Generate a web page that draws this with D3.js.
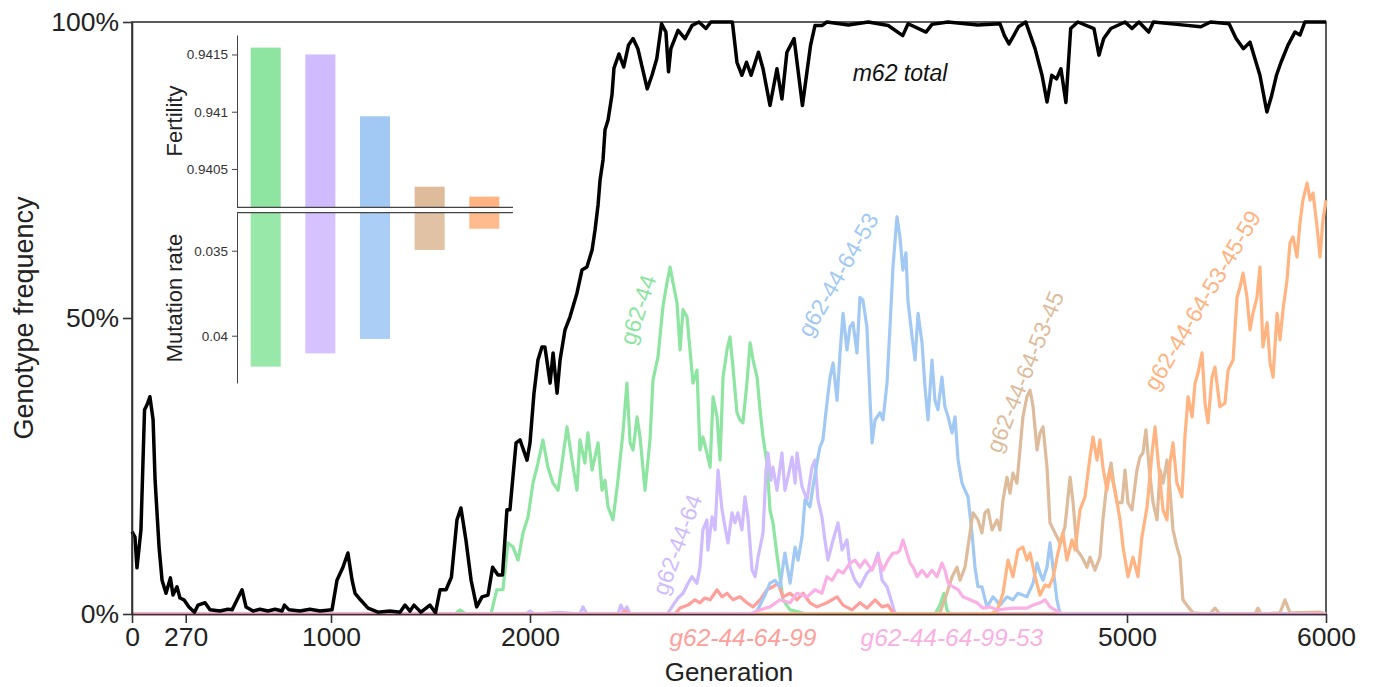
<!DOCTYPE html>
<html>
<head>
<meta charset="utf-8">
<script src="https://cdn.jsdelivr.net/npm/d3@7"></script>
<style>
  body { margin: 0; background: #fff; }
  svg { display: block; font-family: "Liberation Sans", Arial, Helvetica, sans-serif; }
</style>
</head>
<body>
<div id="chart"></div>
<script>
// [generation, % of population]
const m62Total = [[0,13.9],[15,13.0],[25,7.8],[45,14.2],[63,34.5],[75,35.3],[90,36.7],[106,32.8],[116,22.6],[136,11.3],[151,5.7],[171,3.5],[193,6.1],[206,3.2],[226,4.6],[241,2.7],[261,2.4],[286,1.2],[314,0.3],[332,1.5],[367,1.9],[392,0.7],[442,0.5],[482,0.8],[503,0.7],[528,2.4],[553,4.1],[573,1.2],[608,0.5],[643,0.8],[683,0.5],[719,0.8],[754,0.5],[766,1.5],[789,0.7],[844,0.5],[894,0.8],[945,0.5],[1005,0.7],[1030,5.7],[1060,7.9],[1085,10.3],[1106,5.7],[1121,3.5],[1148,2.4],[1186,1.0],[1236,0.3],[1296,0.5],[1347,0.3],[1372,1.5],[1397,0.5],[1417,1.5],[1452,0.3],[1497,1.5],[1525,0.2],[1548,4.1],[1578,4.1],[1605,6.2],[1633,15.9],[1653,17.9],[1678,12.5],[1704,5.7],[1732,1.2],[1759,2.9],[1789,3.2],[1812,7.9],[1839,6.6],[1862,6.6],[1884,17.6],[1899,17.6],[1930,28.9],[1950,29.4],[1985,26.0],[2000,28.9],[2020,37.3],[2040,42.9],[2060,45.1],[2075,45.1],[2101,39.0],[2116,44.1],[2136,37.3],[2151,42.9],[2176,48.0],[2201,50.2],[2236,54.2],[2261,58.1],[2286,58.6],[2312,61.5],[2327,64.9],[2342,69.1],[2352,73.3],[2367,76.7],[2377,81.8],[2392,83.4],[2412,87.7],[2422,92.2],[2447,94.6],[2471,92.4],[2495,96.1],[2518,97.2],[2542,95.5],[2589,88.7],[2613,91.0],[2637,93.8],[2661,99.7],[2683,98.3],[2696,91.6],[2708,95.5],[2744,98.6],[2779,97.2],[2814,99.4],[2849,100],[2884,98.9],[2909,100],[3017,100],[3040,93.2],[3065,91.0],[3088,93.2],[3111,91.0],[3148,94.9],[3171,92.1],[3206,85.9],[3241,92.1],[3266,87.0],[3291,94.9],[3327,97.2],[3369,85.9],[3410,96.1],[3432,99.4],[3467,99.4],[3492,100],[3600,99.5],[3700,100],[3800,99.4],[3873,97.7],[3900,99.7],[3990,98.3],[4020,99.6],[4100,100],[4250,99.5],[4362,99.7],[4384,97.7],[4407,96.3],[4432,97.8],[4455,99.2],[4491,100],[4515,97.7],[4538,95.5],[4573,91.0],[4598,86.5],[4622,91.0],[4646,90.4],[4668,92.1],[4693,86.4],[4717,98.9],[4753,100],[4834,98.9],[4859,94.4],[4883,97.2],[4919,98.9],[4990,100],[5025,98.9],[5060,100],[5109,98.3],[5133,100],[5250,99.6],[5371,99.2],[5420,100],[5513,99.7],[5548,97.2],[5585,95.5],[5618,96.6],[5643,93.8],[5668,91.0],[5703,84.8],[5727,87.6],[5751,91.0],[5774,93.2],[5809,96.1],[5844,98.3],[5869,97.8],[5894,100],[6000,100]]

const g62_44 = [[0,0],[1623,0],[1648,0.7],[1678,0],[1804,0],[1833,4.1],[1864,4.1],[1889,12.0],[1915,11.3],[1940,9.1],[1965,13.7],[1990,16.4],[2015,22.1],[2040,25.5],[2065,29.4],[2090,24.8],[2116,22.1],[2141,20.9],[2161,25.5],[2186,31.6],[2211,26.0],[2236,20.9],[2251,29.4],[2276,25.5],[2291,30.6],[2312,24.3],[2342,28.9],[2362,20.9],[2377,22.6],[2392,18.1],[2417,15.9],[2442,22.6],[2467,30.6],[2487,39.0],[2503,28.9],[2518,27.7],[2538,33.3],[2553,29.9],[2578,20.9],[2603,29.4],[2618,39.5],[2643,43.4],[2668,51.9],[2688,55.9],[2704,58.6],[2719,55.9],[2739,52.5],[2754,44.6],[2769,51.4],[2789,50.2],[2804,44.6],[2819,39.0],[2839,41.2],[2854,27.7],[2869,29.9],[2889,27.2],[2905,24.8],[2920,36.7],[2940,33.3],[2955,26.0],[2970,40.0],[2990,44.6],[3005,46.8],[3020,41.7],[3040,34.0],[3055,32.8],[3070,32.3],[3090,39.0],[3106,45.8],[3121,42.9],[3141,40.0],[3156,34.5],[3171,29.9],[3191,25.5],[3206,17.6],[3221,15.4],[3241,10.0],[3256,6.3],[3271,2.4],[3307,0.7],[3357,0.3],[3382,0],[4035,0],[4060,1.5],[4080,3.5],[4095,0.7],[4111,0],[6000,0]]

const g62_44_64 = [[0,0],[1975,0],[2000,0.5],[2025,0],[2151,0.3],[2251,0],[2266,1.2],[2286,0],[2442,0],[2457,1.5],[2472,0.3],[2487,1.2],[2503,0],[2688,0],[2704,0.7],[2719,1.5],[2744,2.7],[2769,3.5],[2794,5.2],[2814,6.3],[2839,5.2],[2854,7.9],[2869,14.2],[2889,15.9],[2894,10.8],[2915,16.4],[2930,14.2],[2945,24.3],[2965,17.6],[2980,14.7],[2995,12.0],[3015,17.1],[3030,15.4],[3045,17.1],[3065,14.2],[3080,19.8],[3095,16.4],[3116,7.4],[3131,6.3],[3146,9.6],[3171,13.7],[3186,24.3],[3196,27.2],[3211,22.6],[3221,24.8],[3241,20.9],[3266,27.2],[3281,20.9],[3296,23.1],[3317,26.5],[3332,22.1],[3342,27.2],[3367,21.5],[3392,19.3],[3417,24.8],[3432,26.0],[3447,19.3],[3467,16.4],[3482,12.5],[3497,9.1],[3523,12.5],[3548,15.4],[3568,10.8],[3593,12.5],[3608,7.9],[3633,5.7],[3658,4.6],[3693,6.9],[3724,7.9],[3749,10.3],[3769,5.7],[3794,4.6],[3819,1.9],[3834,0],[6000,0]]

const g62_44_64_99 = [[0,0],[2452,0],[2477,0.5],[2503,0],[2729,0],[2754,1.0],[2794,1.5],[2829,2.4],[2854,1.9],[2879,2.7],[2905,2.4],[2940,4.1],[2965,2.9],[2990,3.5],[3020,2.4],[3055,2.9],[3090,1.9],[3121,1.2],[3156,2.4],[3191,4.1],[3221,4.6],[3246,5.2],[3271,2.9],[3307,3.5],[3342,2.4],[3372,3.5],[3407,1.9],[3442,1.2],[3492,1.9],[3543,2.9],[3573,1.5],[3618,0.7],[3658,1.9],[3693,1.0],[3734,2.4],[3769,1.2],[3799,1.5],[3824,0.2],[3859,0],[6000,0]]

const g62_44_64_53 = [[0,0],[3131,0],[3156,1.5],[3181,3.2],[3206,5.2],[3231,5.7],[3256,4.6],[3281,10.3],[3307,5.2],[3332,11.3],[3347,9.1],[3367,13.0],[3382,19.3],[3407,18.1],[3422,21.5],[3442,25.5],[3457,28.2],[3472,29.4],[3492,35.6],[3508,40.0],[3523,42.4],[3543,36.1],[3558,44.1],[3573,50.8],[3593,44.6],[3608,48.5],[3623,49.2],[3643,44.1],[3658,53.5],[3673,53.0],[3693,48.5],[3709,36.1],[3719,28.9],[3734,32.8],[3759,34.0],[3774,32.8],[3794,39.0],[3809,48.5],[3824,58.6],[3844,67.1],[3859,63.7],[3874,58.1],[3889,61.0],[3899,53.0],[3920,46.8],[3935,42.9],[3950,50.8],[3970,45.8],[3985,38.3],[4000,32.8],[4020,42.9],[4035,36.1],[4050,34.5],[4070,40.0],[4085,35.0],[4101,33.3],[4121,30.6],[4136,33.3],[4151,26.0],[4171,22.1],[4186,20.9],[4201,19.8],[4221,13.7],[4236,7.9],[4251,4.6],[4271,4.6],[4296,1.2],[4327,2.9],[4362,1.5],[4397,2.9],[4427,2.4],[4452,3.5],[4497,2.9],[4528,5.2],[4548,8.6],[4563,6.9],[4578,5.7],[4598,7.9],[4613,12.0],[4628,7.9],[4648,2.4],[4663,0],[6000,0]]

const g62_44_64_99_53 = [[0,0],[3106,0],[3156,0.7],[3206,1.2],[3256,2.4],[3307,1.9],[3342,3.5],[3392,2.9],[3432,4.1],[3467,3.5],[3492,6.3],[3518,5.7],[3548,7.4],[3573,6.9],[3608,8.6],[3633,9.1],[3658,7.9],[3683,9.1],[3719,7.4],[3749,9.6],[3774,7.4],[3799,9.1],[3824,10.3],[3844,10.3],[3859,10.8],[3874,12.5],[3894,10.3],[3910,8.6],[3925,7.9],[3945,6.3],[3970,7.4],[3995,6.3],[4020,7.4],[4045,6.3],[4070,8.6],[4085,7.4],[4101,5.2],[4126,4.6],[4151,4.1],[4176,2.9],[4211,2.4],[4246,1.9],[4276,1.0],[4312,1.2],[4347,0.7],[4427,1.0],[4497,1.0],[4528,1.5],[4563,1.9],[4588,2.4],[4613,1.2],[4638,0.7],[4663,0.2],[4688,0],[6000,0]]

const g62_44_64_53_45 = [[0,0],[4035,0],[4060,0.2],[4095,3.5],[4121,6.3],[4146,7.9],[4161,5.7],[4186,7.9],[4211,13.7],[4226,17.1],[4251,15.9],[4271,13.7],[4286,17.1],[4302,17.6],[4322,14.2],[4347,15.9],[4362,14.2],[4377,19.3],[4397,23.1],[4412,20.4],[4427,23.8],[4447,22.1],[4462,27.7],[4477,33.3],[4497,36.7],[4513,37.8],[4528,35.0],[4548,27.7],[4563,30.6],[4578,31.6],[4598,24.8],[4613,15.4],[4638,13.7],[4663,12.0],[4688,14.7],[4714,23.1],[4729,18.8],[4749,10.8],[4774,9.6],[4799,7.9],[4814,9.6],[4839,7.4],[4864,9.6],[4879,15.9],[4899,22.1],[4920,25.5],[4935,21.5],[4950,18.8],[4975,18.8],[4990,24.3],[5005,18.8],[5025,17.6],[5050,24.3],[5065,26.5],[5080,27.2],[5095,31.1],[5111,24.8],[5131,18.8],[5151,15.9],[5166,24.3],[5181,22.1],[5201,26.0],[5216,20.9],[5231,14.2],[5251,11.3],[5266,9.6],[5281,2.4],[5307,1.2],[5332,0.2],[5417,0],[5442,1.0],[5467,0],[5643,0],[5658,1.0],[5673,0],[5769,0.2],[5794,2.4],[5819,0.2],[5970,0.3],[6000,0]]

const g62_44_64_53_45_59 = [[0,0],[4312,0],[4347,0.5],[4377,3.5],[4402,9.1],[4427,6.3],[4452,10.8],[4477,11.3],[4497,9.1],[4513,10.3],[4538,6.3],[4563,3.2],[4588,4.9],[4608,4.6],[4628,6.1],[4653,10.3],[4678,13.7],[4698,9.1],[4724,12.5],[4739,10.8],[4764,17.6],[4789,19.8],[4814,26.5],[4829,29.9],[4849,26.0],[4864,29.4],[4879,24.8],[4899,20.9],[4915,24.3],[4940,20.9],[4965,15.9],[4980,11.3],[5005,6.3],[5030,9.6],[5055,6.3],[5075,13.0],[5101,18.1],[5126,27.2],[5141,31.6],[5156,26.0],[5181,17.6],[5201,15.9],[5216,25.5],[5231,28.9],[5251,22.1],[5276,19.8],[5291,29.9],[5307,36.7],[5327,33.3],[5342,39.0],[5357,40.7],[5377,44.1],[5392,35.6],[5407,32.3],[5427,40.0],[5442,41.7],[5467,35.0],[5492,35.6],[5508,41.2],[5533,42.9],[5553,53.5],[5568,55.2],[5583,57.6],[5603,53.5],[5618,48.0],[5633,50.8],[5653,53.5],[5668,58.6],[5683,45.1],[5704,49.2],[5719,42.4],[5734,40.0],[5754,50.8],[5769,46.3],[5784,51.4],[5804,56.4],[5819,62.7],[5834,63.7],[5854,60.3],[5869,66.0],[5884,69.9],[5905,72.8],[5920,69.9],[5935,71.1],[5955,65.4],[5970,60.3],[5985,66.6],[6000,69.9]]

// inset bar values
const genotypes = ["g62-44", "g62-44-64", "g62-44-64-53", "g62-44-64-53-45", "g62-44-64-53-45-59"]
const fertility = [0.94156, 0.94150, 0.94096, 0.940345, 0.940258]
const mutationRate = [0.04182, 0.04104, 0.04019, 0.03496, 0.03371]

const xTicks = [0, 270, 1000, 2000, 5000, 6000]
const yTicks = [0, 50, 100]
const fertilityTicks = [0.9405, 0.941, 0.9415]
const mutationTicks = [0.035, 0.04]

const palette = {
    "g62-44": "#8de5a1",
    "g62-44-64": "#d0bbff",
    "g62-44-64-99": "#ff9f9b",
    "g62-44-64-53": "#a1c9f4",
    "g62-44-64-99-53": "#fab0e4",
    "g62-44-64-53-45": "#debb9b",
    "g62-44-64-53-45-59": "#ffb482"
}

// draw order: pastel genotypes first, total on top
const series = [
    { name: "g62-44", data: g62_44 },
    { name: "g62-44-64", data: g62_44_64 },
    { name: "g62-44-64-99", data: g62_44_64_99 },
    { name: "g62-44-64-53", data: g62_44_64_53 },
    { name: "g62-44-64-53-45", data: g62_44_64_53_45 },
    { name: "g62-44-64-53-45-59", data: g62_44_64_53_45_59 },
    { name: "g62-44-64-99-53", data: g62_44_64_99_53 }
]

var width = 1375
var height = 687
var axisColor = "#333"

var svg = d3.select("#chart")
            .append("svg")
            .attr("width", width)
            .attr("height", height)

var x = d3.scaleLinear().domain([0, 6000]).range([132, 1326])
var y = d3.scaleLinear().domain([0, 100]).range([614, 22])

var line = d3.line()
             .x(d => x(d[0]))
             .y(d => y(d[1]))

// frame
svg.append("rect")
    .attr("x", x(0)).attr("y", y(100))
    .attr("width", x(6000) - x(0)).attr("height", y(0) - y(100))
    .attr("fill", "none")
    .attr("stroke", axisColor)
    .attr("stroke-width", 1.6)

series.forEach(s => {
    svg.append("path")
        .datum(s.data)
        .attr("fill", "none")
        .attr("stroke", palette[s.name])
        .attr("stroke-width", 3.2)
        .attr("stroke-linejoin", "round")
        .attr("d", line)
})

svg.append("path")
    .datum(m62Total)
    .attr("fill", "none")
    .attr("stroke", "#000")
    .attr("stroke-width", 3.5)
    .attr("stroke-linejoin", "round")
    .attr("d", line)

// axes
var xAxis = svg.append("g")
    .attr("transform", `translate(0,${y(0)})`)
    .call(d3.axisBottom(x).tickValues(xTicks).tickFormat(d3.format("d")).tickSizeInner(9).tickSizeOuter(0).tickPadding(4))
var yAxis = svg.append("g")
    .attr("transform", `translate(${x(0)},0)`)
    .call(d3.axisLeft(y).tickValues(yTicks).tickFormat(d => d + "%").tickSizeInner(9).tickSizeOuter(0).tickPadding(4))

;[xAxis, yAxis].forEach(a => {
    a.select(".domain").attr("stroke", axisColor).attr("stroke-width", 1.6)
    a.selectAll(".tick line").attr("stroke", axisColor).attr("stroke-width", 1.6)
    a.selectAll(".tick text")
        .attr("fill", "#222")
        .style("font-size", "26.5px")
        .style("font-family", '"Liberation Sans", Arial, sans-serif')
})

svg.append("text")
    .attr("x", x(3000))
    .attr("y", 681)
    .attr("text-anchor", "middle")
    .attr("fill", "#222")
    .style("font-size", "26px")
    .text("Generation")

svg.append("text")
    .attr("transform", `translate(24,${y(50)}) rotate(-90)`)
    .attr("text-anchor", "middle")
    .attr("dominant-baseline", "central")
    .attr("fill", "#222")
    .style("font-size", "27px")
    .text("Genotype frequency")

// curve labels
svg.append("text")
    .attr("x", 900).attr("y", 81)
    .attr("text-anchor", "middle")
    .style("font-style", "italic")
    .style("font-size", "23px")
    .attr("fill", "#111")
    .text("m62 total")

const rotatedLabels = [
    { name: "g62-44", gen: 2543, pct: 51.4, angle: -72 },
    { name: "g62-44-64", gen: 2739, pct: 11.7, angle: -70 },
    { name: "g62-44-64-53", gen: 3548, pct: 57.3, angle: -60 },
    { name: "g62-44-64-53-45", gen: 4487, pct: 40.9, angle: -68 },
    { name: "g62-44-64-53-45-59", gen: 5379, pct: 53.0, angle: -59 }
]

rotatedLabels.forEach(l => {
    svg.append("text")
        .attr("transform", `translate(${x(l.gen)},${y(l.pct)}) rotate(${l.angle})`)
        .attr("text-anchor", "middle")
        .attr("dominant-baseline", "central")
        .style("font-size", "23px")
        .attr("fill", palette[l.name])
        .text(l.name)
})

const bottomLabels = [
    { name: "g62-44-64-99", gen: 3070 },
    { name: "g62-44-64-99-53", gen: 4120 }
]

bottomLabels.forEach(l => {
    svg.append("text")
        .attr("x", x(l.gen)).attr("y", 646)
        .attr("text-anchor", "middle")
        .style("font-size", "24.5px")
        .style("font-style", "italic")
        .attr("fill", palette[l.name])
        .text(l.name)
})

// inset: fertility (top) and mutation rate (bottom, inverted)
var band = d3.scaleBand()
             .domain(genotypes)
             .range([237, 513])
             .paddingInner(0.45)
             .paddingOuter(0.25)

var yFert = d3.scaleLinear().domain([0.940165, 0.94167]).range([207.3, 35])
var yMut = d3.scaleLinear().domain([0.032765, 0.042782]).range([212.7, 383])

var inset = svg.append("g")

inset.selectAll("rect.fert")
    .data(genotypes)
    .enter()
    .append("rect")
    .attr("class", "fert")
    .attr("x", d => band(d))
    .attr("width", band.bandwidth())
    .attr("y", (d, i) => yFert(fertility[i]))
    .attr("height", (d, i) => yFert.range()[0] - yFert(fertility[i]))
    .attr("fill", d => palette[d])

inset.selectAll("rect.mut")
    .data(genotypes)
    .enter()
    .append("rect")
    .attr("class", "mut")
    .attr("x", d => band(d))
    .attr("width", band.bandwidth())
    .attr("y", yMut.range()[0])
    .attr("height", (d, i) => yMut(mutationRate[i]) - yMut.range()[0])
    .attr("fill", d => palette[d])
    .attr("opacity", 0.9)

var fertAxis = inset.append("g")
    .attr("transform", "translate(237,0)")
    .call(d3.axisLeft(yFert).tickValues(fertilityTicks).tickFormat(d3.format("")).tickSizeInner(5).tickSizeOuter(0).tickPadding(4))
var mutAxis = inset.append("g")
    .attr("transform", "translate(237,0)")
    .call(d3.axisLeft(yMut).tickValues(mutationTicks).tickFormat(d3.format("")).tickSizeInner(5).tickSizeOuter(0).tickPadding(4))

;[fertAxis, mutAxis].forEach(a => {
    a.select(".domain").attr("stroke", "#444").attr("stroke-width", 1)
    a.selectAll(".tick line").attr("stroke", "#444")
    a.selectAll(".tick text")
        .attr("fill", "#333")
        .style("font-size", "13.5px")
        .style("font-family", '"Liberation Sans", Arial, sans-serif')
})

inset.append("line")
    .attr("x1", 237).attr("x2", 513)
    .attr("y1", yFert.range()[0]).attr("y2", yFert.range()[0])
    .attr("stroke", "#444").attr("stroke-width", 1.2)
inset.append("line")
    .attr("x1", 237).attr("x2", 513)
    .attr("y1", yMut.range()[0]).attr("y2", yMut.range()[0])
    .attr("stroke", "#444").attr("stroke-width", 1.2)

inset.append("text")
    .attr("transform", "translate(174,121) rotate(-90)")
    .attr("text-anchor", "middle")
    .attr("dominant-baseline", "central")
    .attr("fill", "#222")
    .style("font-size", "22px")
    .text("Fertility")

inset.append("text")
    .attr("transform", "translate(174,298) rotate(-90)")
    .attr("text-anchor", "middle")
    .attr("dominant-baseline", "central")
    .attr("fill", "#222")
    .style("font-size", "22px")
    .text("Mutation rate")
</script>
</body>
</html>
